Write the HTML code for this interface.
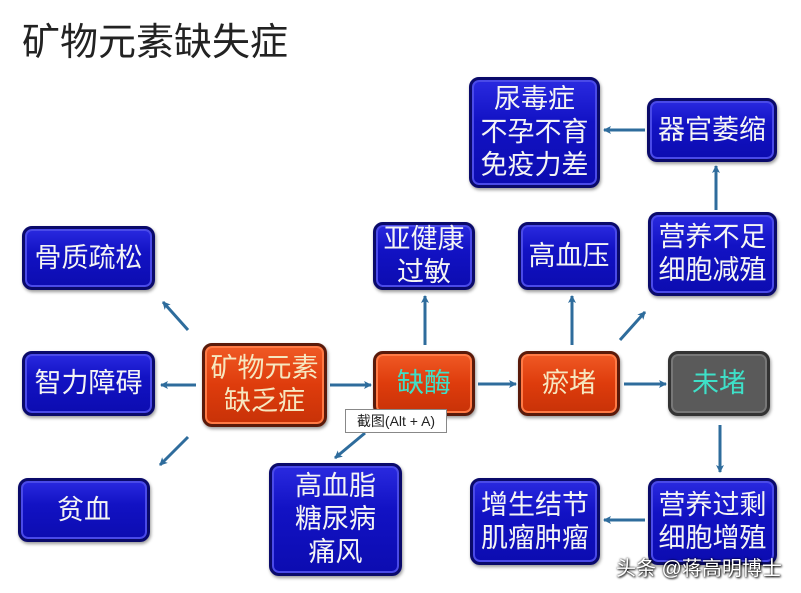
<!DOCTYPE html>
<html><head><meta charset="utf-8"><style>
body{margin:0;width:801px;height:593px;background:#fff;position:relative;overflow:hidden;font-family:"Liberation Sans","Noto Sans CJK SC",sans-serif}
.b{position:absolute;box-sizing:border-box;border-radius:10px;border:3px solid #0a0a6a;background:linear-gradient(#2a2ae0,#1212c4 40%,#0c0cb0);color:#f4f4f4;display:flex;align-items:center;justify-content:center;text-align:center;font-size:27px;line-height:33px;box-shadow:inset 0 0 0 2px #4a4ae8,1px 2px 3px rgba(0,0,0,.4)}
.o{border-color:#5a1a0a;background:linear-gradient(#f05a25,#de3c0c 50%,#c83208);color:#f6e7c0;box-shadow:inset 0 0 0 2px #ff7a45,1px 2px 3px rgba(0,0,0,.4)}
.g{border-color:#333;background:#5a5a5a;color:#3ee0c8;box-shadow:inset 0 0 0 2px #777,1px 2px 3px rgba(0,0,0,.4)}
</style></head><body>
<div style="position:absolute;left:22px;top:11px;font-size:38px;color:#222">矿物元素缺失症</div>
<svg width="801" height="593" style="position:absolute;left:0;top:0">
<defs><marker id="a" markerWidth="8" markerHeight="8" refX="7" refY="4" orient="auto" markerUnits="userSpaceOnUse"><path d="M0,0 L8,4 L0,8 L2,4z" fill="#2e6c9c"/></marker></defs>
<g stroke="#2e6c9c" stroke-width="3" marker-end="url(#a)">
<line x1="196" y1="385" x2="161" y2="385"/>
<line x1="188" y1="330" x2="163" y2="302"/>
<line x1="188" y1="437" x2="160" y2="465"/>
<line x1="330" y1="385" x2="371" y2="385"/>
<line x1="425" y1="345" x2="425" y2="296"/>
<line x1="478" y1="384" x2="516" y2="384"/>
<line x1="572" y1="345" x2="572" y2="296"/>
<line x1="620" y1="340" x2="645" y2="312"/>
<line x1="624" y1="384" x2="666" y2="384"/>
<line x1="716" y1="210" x2="716" y2="166"/>
<line x1="645" y1="130" x2="604" y2="130"/>
<line x1="720" y1="425" x2="720" y2="472"/>
<line x1="645" y1="520" x2="604" y2="520"/>
<line x1="365" y1="433" x2="335" y2="458"/>
</g></svg>
<div class="b" style="left:22px;top:226px;width:133px;height:64px">骨质疏松</div>
<div class="b" style="left:22px;top:351px;width:133px;height:65px">智力障碍</div>
<div class="b" style="left:18px;top:478px;width:132px;height:64px">贫血</div>
<div class="b o" style="left:202px;top:343px;width:125px;height:84px">矿物元素<br>缺乏症</div>
<div class="b o" style="left:373px;top:351px;width:102px;height:65px;color:#3ee0c8">缺酶</div>
<div class="b o" style="left:518px;top:351px;width:102px;height:65px">瘀堵</div>
<div class="b g" style="left:668px;top:351px;width:102px;height:65px">未堵</div>
<div class="b" style="left:373px;top:222px;width:102px;height:68px">亚健康<br>过敏</div>
<div class="b" style="left:518px;top:222px;width:102px;height:68px">高血压</div>
<div class="b" style="left:648px;top:212px;width:129px;height:84px">营养不足<br>细胞减殖</div>
<div class="b" style="left:647px;top:98px;width:130px;height:64px">器官萎缩</div>
<div class="b" style="left:469px;top:77px;width:131px;height:111px">尿毒症<br>不孕不育<br>免疫力差</div>
<div class="b" style="left:269px;top:463px;width:133px;height:113px">高血脂<br>糖尿病<br>痛风</div>
<div class="b" style="left:470px;top:478px;width:130px;height:87px">增生结节<br>肌瘤肿瘤</div>
<div class="b" style="left:648px;top:478px;width:129px;height:87px">营养过剩<br>细胞增殖</div>
<div style="position:absolute;left:345px;top:409px;width:100px;height:22px;border:1px solid #888;background:#fff;font-size:14px;line-height:22px;text-align:center;color:#222">截图(Alt + A)</div>
<div style="position:absolute;left:616px;top:552px;font-size:20px;color:#fff;text-shadow:0 0 2px #000,1px 1px 2px #000">头条 @蒋高明博士</div>
</body></html>
